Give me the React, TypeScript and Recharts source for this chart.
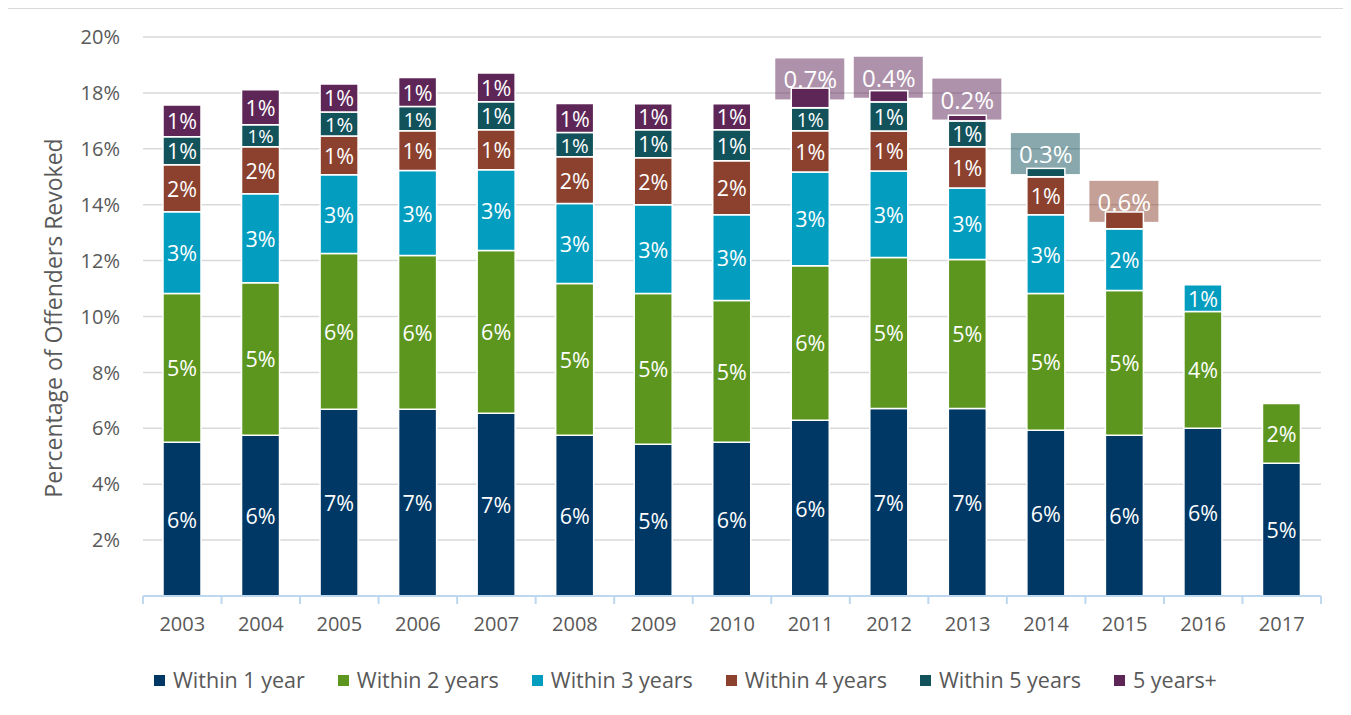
import { BarChart, Bar, XAxis, YAxis, CartesianGrid, Legend, LabelList } from "recharts"

const years = ["2003", "2004", "2005", "2006", "2007", "2008", "2009", "2010", "2011", "2012", "2013", "2014", "2015", "2016", "2017"]
const within1 = [5.5, 5.75, 6.68, 6.68, 6.54, 5.75, 5.43, 5.5, 6.29, 6.71, 6.71, 5.93, 5.75, 6.0, 4.75]
const within2 = [5.32, 5.46, 5.57, 5.5, 5.82, 5.43, 5.39, 5.07, 5.53, 5.4, 5.33, 4.89, 5.18, 4.18, 2.14]
const within3 = [2.93, 3.18, 2.82, 3.04, 2.89, 2.86, 3.18, 3.07, 3.35, 3.1, 2.56, 2.82, 2.21, 0.96, null]
const within4 = [1.68, 1.68, 1.39, 1.43, 1.43, 1.68, 1.68, 1.93, 1.48, 1.43, 1.47, 1.36, 0.6, null, null]
const within5 = [1.0, 0.79, 0.86, 0.86, 1.0, 0.86, 1.0, 1.11, 0.82, 1.04, 0.93, 0.3, null, null, null]
const over5 = [1.14, 1.25, 1.0, 1.04, 1.03, 1.04, 0.93, 0.93, 0.7, 0.4, 0.2, null, null, null, null]
const yTicks = [2, 4, 6, 8, 10, 12, 14, 16, 18, 20]

const series = [
  { key: "w1", name: "Within 1 year", color: "#003865" },
  { key: "w2", name: "Within 2 years", color: "#5c961f" },
  { key: "w3", name: "Within 3 years", color: "#039dbf" },
  { key: "w4", name: "Within 4 years", color: "#8b412e" },
  { key: "w5", name: "Within 5 years", color: "#12525b" },
  { key: "w6", name: "5 years+", color: "#5e2657" },
]

const data = years.map((year, i) => ({
  year,
  w1: within1[i],
  w2: within2[i],
  w3: within3[i],
  w4: within4[i],
  w5: within5[i],
  w6: over5[i],
}))

const FONT = "'Open Sans', sans-serif"
const TEXT = "#595959"

function makeLabel(color: string) {
  return (props: any) => {
    const { x, y, width, height, value } = props
    if (value == null || value === 0) return null
    const cx = x + width / 2
    const cy = y + height / 2
    if (value < 0.75) {
      // small tail values sit in a translucent box above the segment
      return (
        <g>
          <rect x={cx - 35} y={cy - 19 - 20.5} width={69} height={41} fill={color} fillOpacity={0.5} />
          <rect x={x} y={y} width={width} height={height} fill={color} stroke="#fff" strokeWidth={1.5} />
          <text x={cx} y={cy - 19} fill="#fff" fontSize={24} fontFamily={FONT} textAnchor="middle" dominantBaseline="central">
            {value.toFixed(1)}%
          </text>
        </g>
      )
    }
    const size = Math.min(21.5, Math.abs(height) * 0.84)
    return (
      <text x={cx} y={cy} fill="#fff" fontSize={size} fontFamily={FONT} textAnchor="middle" dominantBaseline="central">
        {Math.round(value)}%
      </text>
    )
  }
}

function XTick(props: any) {
  const { x, y, payload, index } = props
  const axisY = y - 21
  const half = payload.offset || 0
  return (
    <g>
      <line x1={x - half} x2={x - half} y1={axisY} y2={axisY + 8} stroke="#bdd7ee" strokeWidth={2} />
      {index === years.length - 1 && (
        <line x1={x + half} x2={x + half} y1={axisY} y2={axisY + 8} stroke="#bdd7ee" strokeWidth={2} />
      )}
      <text x={x} y={y} dy="0.71em" textAnchor="middle" fill={TEXT} fontSize={20} fontFamily={FONT}>
        {payload.value}
      </text>
    </g>
  )
}

function LegendContent() {
  return (
    <div style={{ display: "flex", alignItems: "center", fontFamily: FONT, fontSize: 21.5, color: TEXT }}>
      {series.map((s) => (
        <div key={s.key} style={{ display: "flex", alignItems: "center", marginRight: 33 }}>
          <span style={{ width: 11, height: 11, background: s.color, marginRight: 8, display: "inline-block" }} />
          <span style={{ lineHeight: "24px" }}>{s.name}</span>
        </div>
      ))}
    </div>
  )
}

export default function App() {
  return (
    <div
      style={{
        width: 1342,
        height: 712,
        border: "2px solid #d9d9d9",
        boxSizing: "border-box",
        margin: "-1px 0 0 -2px",
        background: "#fff",
      }}
    >
      <BarChart
        width={1338}
        height={700}
        data={data}
        margin={{ top: 28, right: 25, left: 0, bottom: 53 }}
      >
        <CartesianGrid vertical={false} stroke="#d9d9d9" strokeWidth={1.5} />
        <XAxis
          dataKey="year"
          height={60}
          tickLine={false}
          tickSize={0}
          tickMargin={21}
          axisLine={{ stroke: "#bdd7ee", strokeWidth: 2 }}
          tick={<XTick />}
          interval={0}
        />
        <YAxis
          width={135}
          domain={[0, 20]}
          ticks={yTicks}
          tickFormatter={(v: number) => `${v}%`}
          axisLine={false}
          tickLine={false}
          tickSize={0}
          tickMargin={23}
          tick={{ fill: TEXT, fontSize: 20, fontFamily: FONT }}
          label={{
            content: () => (
              <text
                x={45}
                y={309}
                transform="rotate(-90 45 309)"
                textAnchor="middle"
                dominantBaseline="central"
                fill={TEXT}
                fontSize={23}
                fontFamily={FONT}
              >
                Percentage of Offenders Revoked
              </text>
            ),
          }}
        />
        <Legend
          layout="vertical"
          align="center"
          verticalAlign="middle"
          content={<LegendContent />}
          wrapperStyle={{ top: 659, left: 146, width: 1150 }}
        />
        {series.map((s) => (
          <Bar
            key={s.key}
            dataKey={s.key}
            name={s.name}
            stackId="a"
            fill={s.color}
            stroke="#fff"
            strokeWidth={1.5}
            barSize={38}
            isAnimationActive={false}
          >
            <LabelList dataKey={s.key} content={makeLabel(s.color)} />
          </Bar>
        ))}
      </BarChart>
    </div>
  )
}
